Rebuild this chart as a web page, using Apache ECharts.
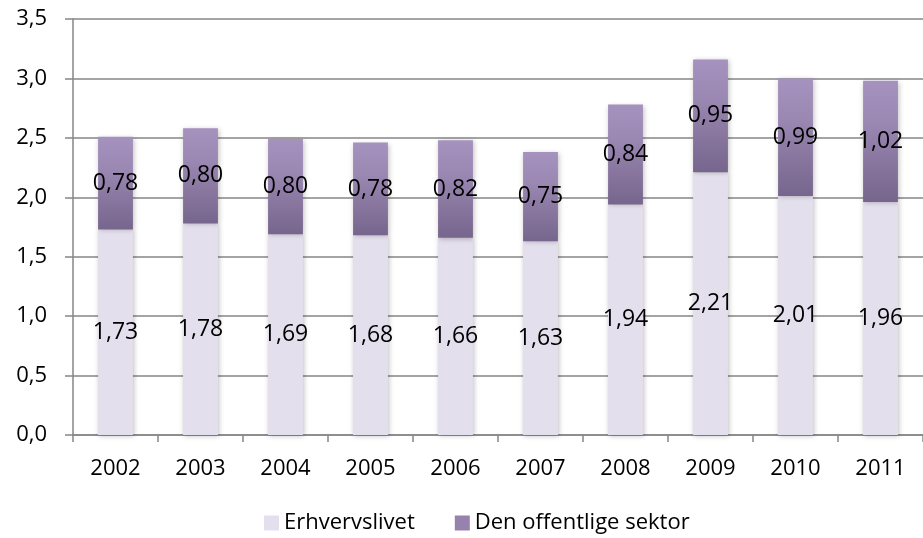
<!DOCTYPE html>
<html><head><meta charset="utf-8">
<script src="https://cdn.jsdelivr.net/npm/echarts@6/dist/echarts.min.js"></script>
<style>html,body{margin:0;padding:0;background:#fff}#c{width:923px;height:538px}</style>
</head><body><div id="c"></div>
<script>
const categories = ['2002','2003','2004','2005','2006','2007','2008','2009','2010','2011'];
const erhvervslivet = [1.73,1.78,1.69,1.68,1.66,1.63,1.94,2.21,2.01,1.96];
const offentlige = [0.78,0.80,0.80,0.78,0.82,0.75,0.84,0.95,0.99,1.02];
const seriesNames = ['Erhvervslivet','Den offentlige sektor'];

const font = '"Open Sans", "Liberation Sans", sans-serif';
const fmt = v => v.toFixed(2).replace('.', ',');
const chart = echarts.init(document.getElementById('c'));
chart.setOption({
  animation: false,
  textStyle: {fontFamily: font},
  grid: {left: 73, right: 0, top: 19, bottom: 103},
  legend: {
    left: 259, top: 507, itemWidth: 15, itemHeight: 15, itemGap: 40,
    icon: 'rect',
    textStyle: {fontFamily: font, fontSize: 22, color: '#000'},
    data: [{name: seriesNames[0], itemStyle: {color: '#e4dfec'}},
           {name: seriesNames[1], itemStyle: {color: '#9683ad'}}]
  },
  xAxis: {
    type: 'category', data: categories,
    axisLine: {lineStyle: {color: '#868686', width: 1.5}},
    axisTick: {show: true, length: 7, lineStyle: {color: '#868686', width: 1.5}},
    axisLabel: {color: '#000', fontSize: 22, margin: 23, fontFamily: font}
  },
  yAxis: {
    type: 'value', min: 0, max: 3.5, interval: 0.5,
    axisLine: {show: true, lineStyle: {color: '#868686', width: 1.5}},
    axisTick: {show: true, length: 8, lineStyle: {color: '#868686', width: 1.5}},
    splitLine: {lineStyle: {color: '#868686', width: 1.5}},
    axisLabel: {color: '#000', fontSize: 22, margin: 26, fontFamily: font,
      formatter: v => v.toFixed(1).replace('.', ',')}
  },
  series: [
    {
      name: seriesNames[0], type: 'bar', stack: 's', data: erhvervslivet,
      barWidth: '41%',
      itemStyle: {color: '#e4dfec', shadowColor: 'rgba(0,0,0,0.25)', shadowBlur: 5, shadowOffsetX: 1, shadowOffsetY: 1},
      label: {show: true, position: 'inside', color: '#000', fontSize: 23, fontFamily: font, formatter: p => fmt(p.value)}
    },
    {
      name: seriesNames[1], type: 'bar', stack: 's', data: offentlige,
      barWidth: '41%',
      itemStyle: {
        color: new echarts.graphic.LinearGradient(0, 0, 0, 1, [
          {offset: 0, color: '#a692be'}, {offset: 0.35, color: '#9a87b2'}, {offset: 1, color: '#76658c'}
        ]),
        shadowColor: 'rgba(0,0,0,0.25)', shadowBlur: 5, shadowOffsetX: 1, shadowOffsetY: 1
      },
      label: {show: true, position: 'inside', color: '#000', fontSize: 23, fontFamily: font, formatter: p => fmt(p.value)}
    }
  ]
});
</script></body></html>
